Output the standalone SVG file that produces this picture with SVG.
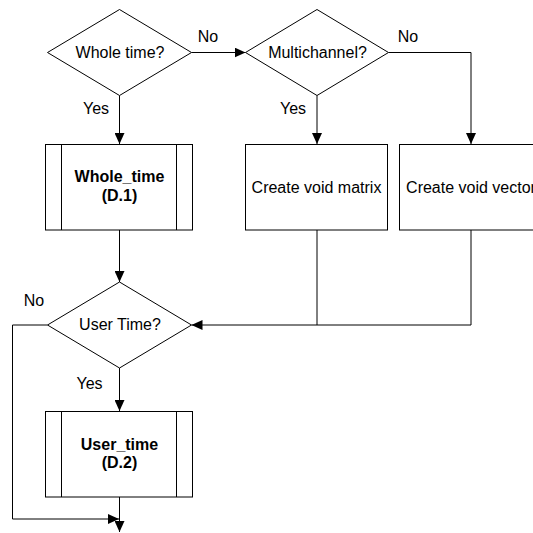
<svg xmlns="http://www.w3.org/2000/svg" width="533" height="533" viewBox="0 0 533 533">
<defs>
<marker id="arr" markerUnits="userSpaceOnUse" markerWidth="11" markerHeight="10" refX="11" refY="5" orient="auto">
<path d="M0,0 L11,5 L0,10 Z" fill="#000"/>
</marker>
<style>
.shape{fill:#fff;stroke:#000;stroke-width:1}
.line{fill:none;stroke:#000;stroke-width:1}
.arrow{marker-end:url(#arr)}
text{font-family:"Liberation Sans",Arial,sans-serif;font-size:16px;fill:#000;text-anchor:middle}
.b{font-weight:bold}
</style>
</defs>
<rect width="533" height="533" fill="#fff"/>
<g id="connectors">
<path class="line arrow" d="M119.5,95.5 V144"/>
<path class="line arrow" d="M191.5,52.5 H245.5"/>
<path class="line arrow" d="M317,95.5 V144"/>
<path class="line arrow" d="M388.5,52.5 H471 V144"/>
<path class="line arrow" d="M119.5,230 V282"/>
<path class="line" d="M317,230 V325"/>
<path class="line arrow" d="M471,230 V325 H191.5"/>
<path class="line arrow" d="M119.5,368 V411"/>
<path class="line arrow" d="M47.5,325 H12.5 V519 H119"/>
<path class="line arrow" d="M119.5,497 V532"/>
<text x="208" y="42">No</text>
<text x="96" y="114">Yes</text>
<text x="408" y="42">No</text>
<text x="293" y="114">Yes</text>
<text x="34" y="306">No</text>
<text x="89.5" y="389">Yes</text>
</g>
<g id="whole_time_q">
<polygon class="shape" points="47.5,52.5 119.5,9.5 191.5,52.5 119.5,95.5"/>
<text x="120" y="57.5">Whole time?</text>
</g>
<g id="multichannel_q">
<polygon class="shape" points="245.5,52.5 317,9.5 388.5,52.5 317,95.5"/>
<text x="317.5" y="57.5">Multichannel?</text>
</g>
<g id="whole_time">
<rect class="shape" x="45.5" y="144.5" width="147" height="85.5"/>
<path class="line" d="M61.5,144.5 V230 M176.5,144.5 V230"/>
<text class="b" x="119.5" y="182">Whole_time</text>
<text class="b" x="119.5" y="200.5">(D.1)</text>
</g>
<g id="void_matrix">
<rect class="shape" x="245.5" y="144.5" width="142" height="85.5"/>
<text x="316.5" y="192.5">Create void matrix</text>
</g>
<g id="void_vector">
<rect class="shape" x="399.5" y="144.5" width="143" height="85.5"/>
<text x="471" y="192.5">Create void vector</text>
</g>
<g id="user_time_q">
<polygon class="shape" points="47.5,325 119.5,282 191.5,325 119.5,368"/>
<text x="120" y="329.5">User Time?</text>
</g>
<g id="user_time">
<rect class="shape" x="45.5" y="411.5" width="147" height="85.5"/>
<path class="line" d="M61.5,411.5 V497 M176.5,411.5 V497"/>
<text class="b" x="119.5" y="449.5">User_time</text>
<text class="b" x="119.5" y="467.5">(D.2)</text>
</g>
</svg>
